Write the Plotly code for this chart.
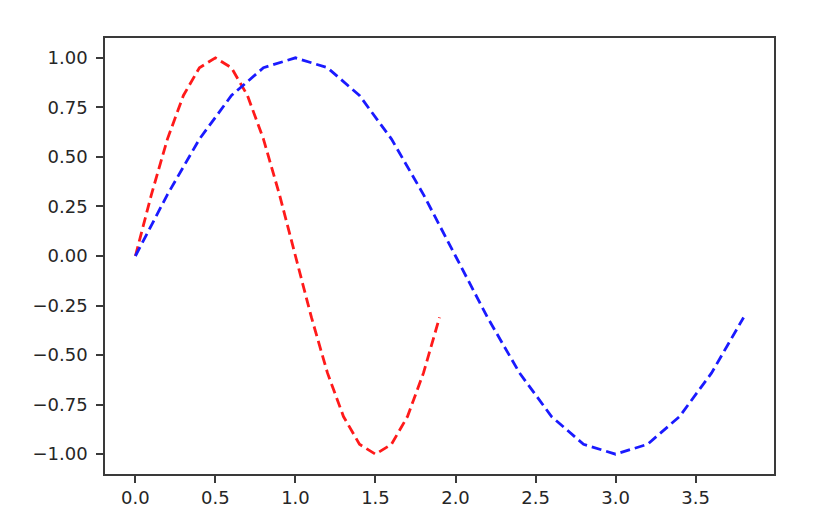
import plotly.graph_objects as go

red_x = [0.0, 0.1, 0.2, 0.3, 0.4, 0.5, 0.6, 0.7, 0.8, 0.9,
         1.0, 1.1, 1.2, 1.3, 1.4, 1.5, 1.6, 1.7, 1.8, 1.9]
red_y = [0.0, 0.31, 0.59, 0.81, 0.95, 1.0, 0.95, 0.81, 0.59, 0.31,
         0.0, -0.31, -0.59, -0.81, -0.95, -1.0, -0.95, -0.81, -0.59, -0.31]

blue_x = [0.0, 0.2, 0.4, 0.6, 0.8, 1.0, 1.2, 1.4, 1.6, 1.8,
          2.0, 2.2, 2.4, 2.6, 2.8, 3.0, 3.2, 3.4, 3.6, 3.8]
blue_y = [0.0, 0.31, 0.59, 0.81, 0.95, 1.0, 0.95, 0.81, 0.59, 0.31,
          0.0, -0.31, -0.59, -0.81, -0.95, -1.0, -0.95, -0.81, -0.59, -0.31]

x_ticks = [0.0, 0.5, 1.0, 1.5, 2.0, 2.5, 3.0, 3.5]
x_tick_labels = ["0.0", "0.5", "1.0", "1.5", "2.0", "2.5", "3.0", "3.5"]
y_ticks = [1.0, 0.75, 0.5, 0.25, 0.0, -0.25, -0.5, -0.75, -1.0]
y_tick_labels = ["1.00", "0.75", "0.50", "0.25", "0.00", "\u22120.25", "\u22120.50", "\u22120.75", "\u22121.00"]

fig = go.Figure()
fig.add_trace(go.Scatter(x=red_x, y=red_y, mode="lines",
                         line=dict(color="#ff1a1a", width=2.8, dash="10px,5px")))
fig.add_trace(go.Scatter(x=blue_x, y=blue_y, mode="lines",
                         line=dict(color="#1a1aff", width=2.8, dash="10px,5px")))

axis_common = dict(showgrid=False, zeroline=False, showline=True, mirror=True,
                   linecolor="#3a3a3a", linewidth=1.5, ticks="outside", ticklen=7,
                   tickwidth=1.5, tickcolor="#3a3a3a",
                   tickfont=dict(family="DejaVu Sans", size=18, color="#262626"))

fig.update_layout(
    width=816, height=532,
    margin=dict(l=97, r=50, t=30, b=66),
    paper_bgcolor="white", plot_bgcolor="white",
    showlegend=False,
    xaxis=dict(range=[-0.19, 3.99], tickvals=x_ticks, ticktext=x_tick_labels, **axis_common),
    yaxis=dict(range=[-1.1, 1.1], tickvals=y_ticks, ticktext=y_tick_labels,
               ticklabelstandoff=5, **axis_common),
)

fig.write_html("out.html")
